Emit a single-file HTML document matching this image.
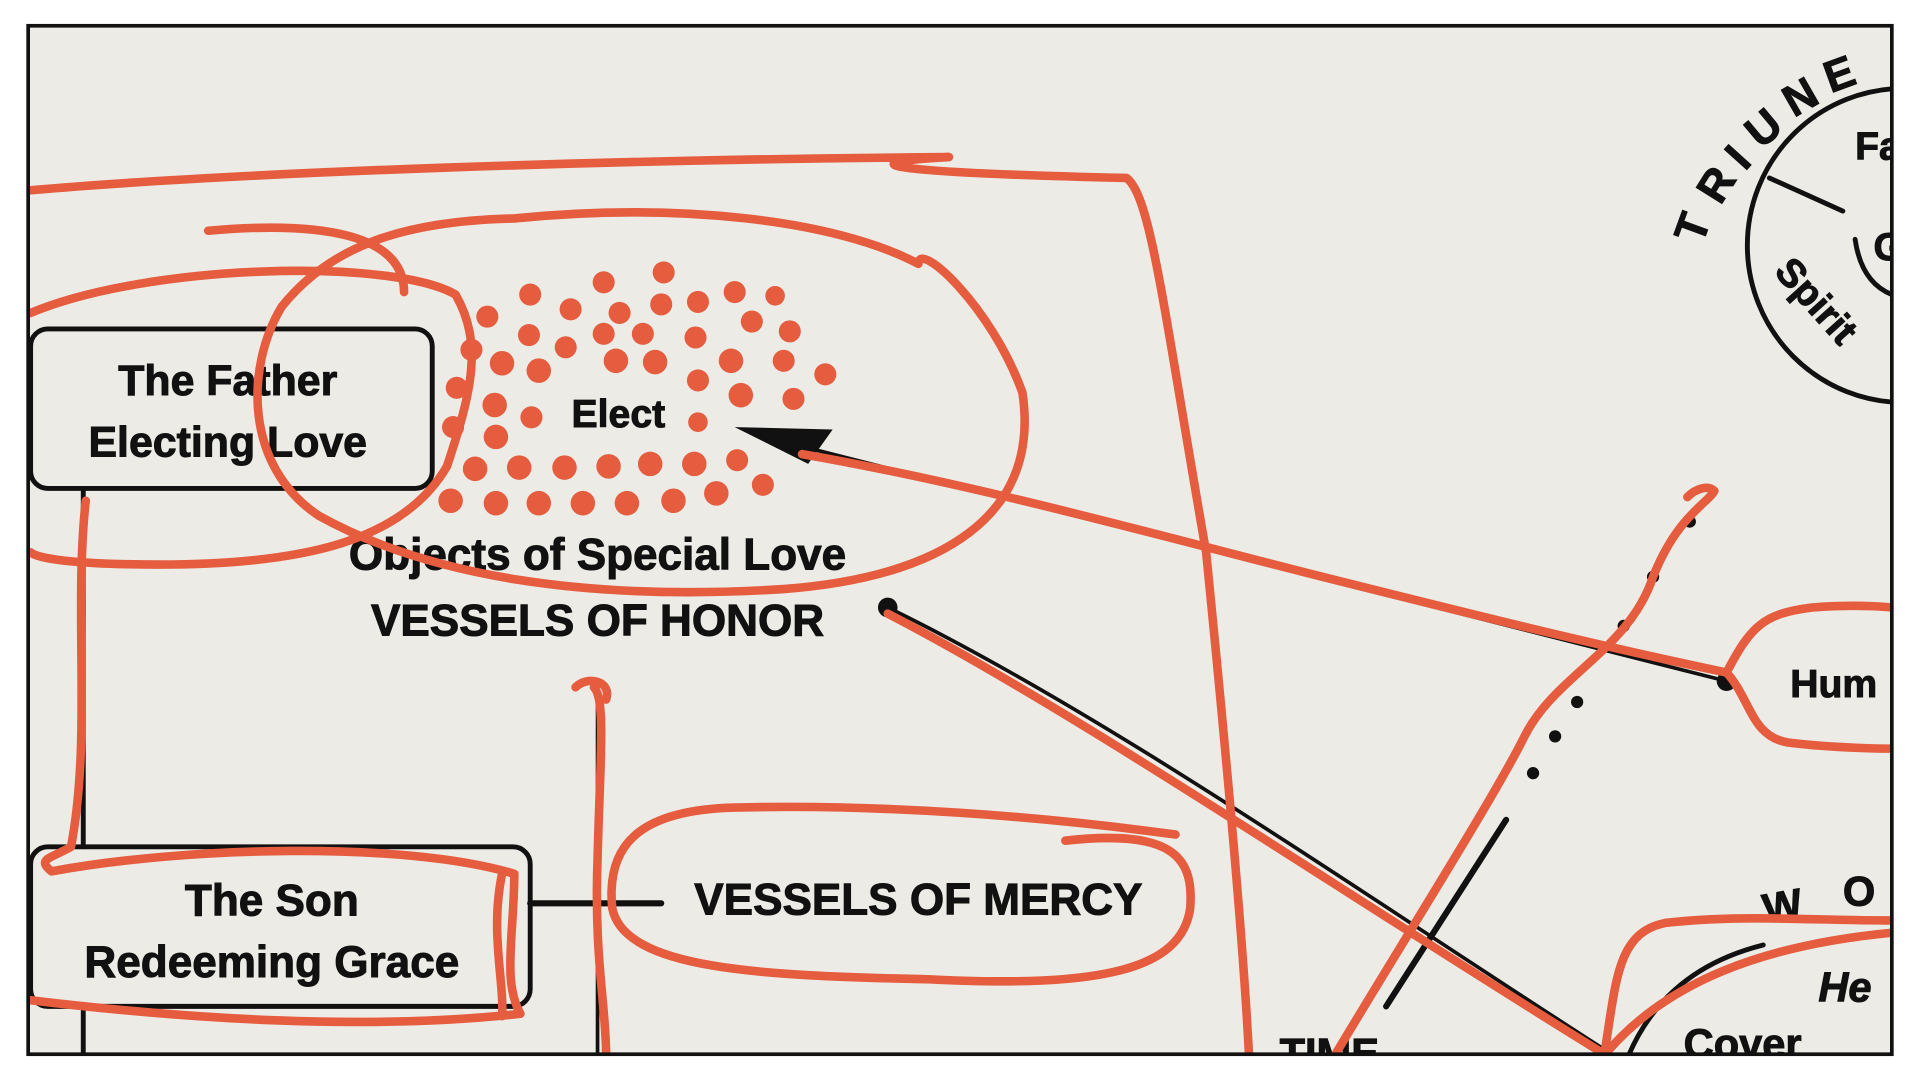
<!DOCTYPE html>
<html><head><meta charset="utf-8"><style>
html,body{margin:0;padding:0;background:#fff;width:1920px;height:1080px;overflow:hidden}
svg{display:block}
text{font-family:"Liberation Sans","DejaVu Sans",sans-serif;font-weight:bold;fill:#111;stroke:#111;stroke-width:0.8}
</style></head><body>
<svg width="1920" height="1080" viewBox="0 0 1568 880" preserveAspectRatio="none">
<defs><clipPath id="c"><rect x="23" y="21" width="1522" height="838"/></clipPath></defs>
<rect x="0" y="0" width="1568" height="880" fill="#fff"/>
<rect x="23" y="21" width="1522" height="838" fill="#ecebe5"/>
<g clip-path="url(#c)">
<g fill="none" stroke="#111" stroke-linecap="round">
<rect x="25" y="268" width="328" height="130" rx="14" stroke-width="4"/>
<line x1="68" y1="400" x2="68" y2="690" stroke-width="4"/>
<rect x="25" y="690" width="408" height="130" rx="14" stroke-width="4"/>
<line x1="68" y1="822" x2="68" y2="860" stroke-width="4"/>
<line x1="433" y1="736" x2="540" y2="736" stroke-width="5"/>
<line x1="488" y1="560" x2="488" y2="860" stroke-width="3"/>
<line x1="640" y1="360" x2="1410" y2="555" stroke-width="3"/>
<polygon points="600,348 680,350 660,378" fill="#111" stroke="none"/>
<circle cx="1410" cy="555" r="8" fill="#111" stroke="none"/>
<path d="M725,495 C900,580 1100,720 1310,855" stroke-width="3"/>
<circle cx="725" cy="495" r="8" fill="#111" stroke="none"/>
<line x1="1230" y1="668" x2="1132" y2="820" stroke-width="5"/>
<g fill="#111" stroke="none"><circle cx="1252" cy="630" r="5"/><circle cx="1270" cy="600" r="5"/><circle cx="1288" cy="572" r="5"/><circle cx="1326" cy="510" r="5"/><circle cx="1350" cy="470" r="5"/><circle cx="1380" cy="425" r="5"/></g>
<circle cx="1555" cy="200" r="128" stroke-width="4"/>
<line x1="1445" y1="145" x2="1505" y2="172" stroke-width="4"/>
<path d="M1515,195 Q1520,230 1545,240" stroke-width="4"/>
<path d="M1330,860 Q1360,790 1440,770" stroke-width="4"/>
</g>
<g fill="#e55c3f">
<circle cx="433" cy="240" r="9"/><circle cx="493" cy="230" r="9"/><circle cx="542" cy="222" r="9"/><circle cx="600" cy="238" r="9"/><circle cx="633" cy="241" r="8"/>
<circle cx="398" cy="258" r="9"/><circle cx="466" cy="252" r="9"/><circle cx="506" cy="255" r="9"/><circle cx="540" cy="248" r="9"/><circle cx="570" cy="246" r="9"/><circle cx="614" cy="262" r="9"/><circle cx="645" cy="270" r="9"/>
<circle cx="432" cy="273" r="9"/><circle cx="462" cy="283" r="9"/><circle cx="493" cy="272" r="9"/><circle cx="525" cy="272" r="9"/><circle cx="568" cy="275" r="9"/>
<circle cx="385" cy="285" r="9"/><circle cx="410" cy="296" r="10"/><circle cx="440" cy="302" r="10"/><circle cx="503" cy="294" r="10"/><circle cx="535" cy="295" r="10"/><circle cx="597" cy="294" r="10"/><circle cx="640" cy="294" r="9"/><circle cx="674" cy="305" r="9"/>
<circle cx="373" cy="316" r="9"/><circle cx="404" cy="330" r="10"/><circle cx="434" cy="340" r="9"/><circle cx="570" cy="310" r="9"/><circle cx="605" cy="322" r="10"/><circle cx="648" cy="325" r="9"/><circle cx="570" cy="344" r="8"/>
<circle cx="370" cy="348" r="9"/><circle cx="405" cy="356" r="10"/><circle cx="388" cy="382" r="10"/><circle cx="424" cy="381" r="10"/><circle cx="461" cy="381" r="10"/><circle cx="497" cy="380" r="10"/><circle cx="531" cy="378" r="10"/><circle cx="567" cy="378" r="10"/><circle cx="602" cy="375" r="9"/>
<circle cx="368" cy="408" r="10"/><circle cx="405" cy="410" r="10"/><circle cx="440" cy="410" r="10"/><circle cx="476" cy="410" r="10"/><circle cx="512" cy="410" r="10"/><circle cx="550" cy="408" r="10"/><circle cx="585" cy="402" r="10"/><circle cx="623" cy="395" r="9"/>
</g>
<text x="186" y="322" font-size="35" text-anchor="middle">The Father</text>
<text x="186" y="372" font-size="35" text-anchor="middle">Electing Love</text>
<text x="505" y="348" font-size="32" text-anchor="middle">Elect</text>
<text x="488" y="464" font-size="36" text-anchor="middle">Objects of Special Love</text>
<text x="488" y="518" font-size="36" text-anchor="middle">VESSELS OF HONOR</text>
<text x="222" y="746" font-size="36" text-anchor="middle">The Son</text>
<text x="222" y="796" font-size="36" text-anchor="middle">Redeeming Grace</text>
<text x="750" y="745" font-size="36" text-anchor="middle">VESSELS OF MERCY</text>
<text x="1462" y="568" font-size="32">Hum</text>
<text x="1045" y="870" font-size="34">TIME</text>
<text x="1375" y="862" font-size="34">Cover</text>
<text x="1485" y="816" font-size="34" font-style="italic">He</text>
<text x="1440" y="750" font-size="34" transform="rotate(-10 1455 740)">W</text>
<text x="1505" y="738" font-size="34">O</text>
<text x="1515" y="130" font-size="32">Fa</text>
<text x="1530" y="212" font-size="32">G</text>
<text font-size="36" transform="translate(1390,200) rotate(-70)">T</text>
<text font-size="36" transform="translate(1405,168) rotate(-58)">R</text>
<text font-size="36" transform="translate(1425,140) rotate(-48)">I</text>
<text font-size="36" transform="translate(1438,122) rotate(-40)">U</text>
<text font-size="36" transform="translate(1465,96) rotate(-30)">N</text>
<text font-size="36" transform="translate(1495,76) rotate(-20)">E</text>
<text font-size="32" transform="translate(1448,222) rotate(48)">Spirit</text>
<g fill="none" stroke="#e55c3f" stroke-width="7" stroke-linecap="round" stroke-linejoin="round">
<path d="M25,155 C200,140 500,130 775,128 C700,132 700,140 920,145 C940,160 950,250 985,450 C1000,600 1015,760 1020,860"/>
<path d="M170,188 C260,180 330,190 330,238"/>
<path d="M25,255 C120,215 320,210 372,240 C395,280 385,320 365,380 C330,440 250,460 130,460 C60,460 30,455 25,450"/>
<path d="M420,178 C550,165 680,178 750,215 C750,195 810,250 835,320 C850,420 770,470 640,480 C480,490 350,470 260,420 C200,380 200,300 230,250 C270,200 330,180 420,178 Z"/>
<path d="M655,370 C800,395 960,440 1080,470 C1200,500 1300,525 1410,548"/>
<path d="M1410,548 C1430,510 1440,500 1480,495 C1520,492 1545,495 1545,495 M1410,548 C1430,570 1430,600 1460,605 C1500,610 1545,610 1545,610"/>
<path d="M725,500 C880,580 1100,730 1312,860"/>
<path d="M1090,860 C1150,760 1220,650 1245,600 C1270,550 1330,530 1350,470 C1370,420 1395,410 1400,400 C1395,395 1385,398 1378,405"/>
<path d="M485,560 C495,570 490,620 488,700 C485,780 495,820 495,860"/>
<path d="M470,560 C480,550 500,555 495,570"/>
<path d="M70,408 C60,500 75,600 58,690 C40,700 30,700 42,710 C150,690 330,685 420,712 C420,760 410,800 425,826 C300,840 150,830 25,815"/>
<path d="M410,712 C400,760 412,800 410,828"/>
<path d="M870,685 C960,675 975,700 972,740 C965,790 900,805 760,798 C620,795 510,790 500,740 C495,690 520,660 600,658 C720,655 850,665 960,680"/>
<path d="M1310,860 C1320,800 1320,760 1360,752 C1420,745 1480,750 1545,750 M1310,860 C1360,800 1440,770 1545,760"/>
</g>
</g>
<rect x="23" y="21" width="1522" height="838" fill="none" stroke="#111" stroke-width="3"/>
</svg>
</body></html>
